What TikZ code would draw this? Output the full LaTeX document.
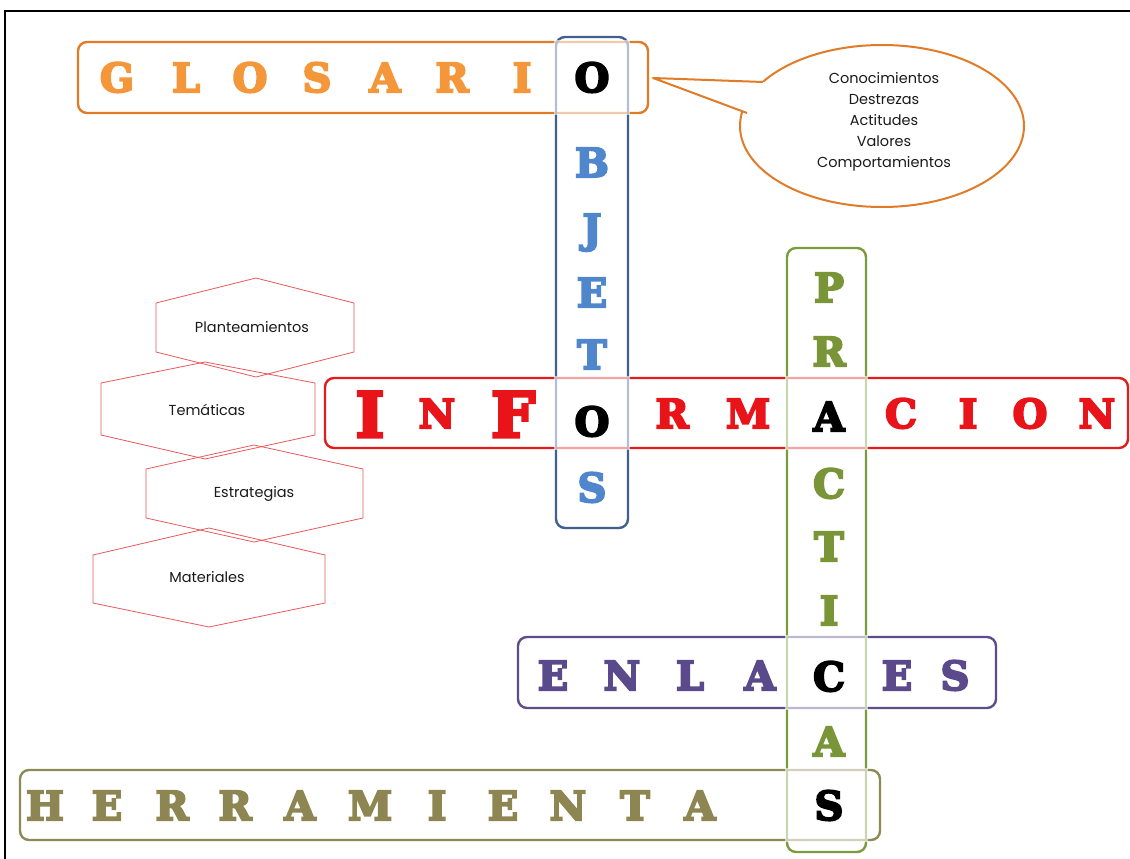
\documentclass[tikz,border=0pt]{standalone}
\usepackage{fontspec}
\usetikzlibrary{shapes.geometric,calc}
\setmainfont{Poppins}
\newfontfamily\bigfont{DejaVu Serif}[UprightFont=* Bold, FakeBold=5]
\definecolor{orB}{HTML}{E07B28}
\definecolor{orL}{HTML}{F4973A}
\definecolor{blB}{HTML}{41618C}
\definecolor{blL}{HTML}{4F86CC}
\definecolor{rdB}{HTML}{E41B1B}
\definecolor{rdL}{HTML}{E8141A}
\definecolor{grB}{HTML}{7C9A3E}
\definecolor{grL}{HTML}{7A9438}
\definecolor{puB}{HTML}{5E4D8A}
\definecolor{puL}{HTML}{5B4A8B}
\definecolor{olB}{HTML}{8C8A55}
\definecolor{olL}{HTML}{8D8652}
\definecolor{hexred}{HTML}{E8585A}
\definecolor{txt}{HTML}{1A1A1A}
\tikzset{
  wordbox/.style={rounded corners=9pt, line width=2.4pt},
  lt/.style={font=\bigfont\fontsize{40}{40}\selectfont, anchor=base, inner sep=0pt},
  biglt/.style={font=\bigfont\fontsize{62}{62}\selectfont, anchor=base, inner sep=0pt},
  hexa/.style={draw=hexred, line width=0.8pt},
  small/.style={font=\fontsize{14.5}{21}\selectfont, text=txt, inner sep=0pt},
  fade/.style={fill=white, fill opacity=0.6, draw=none}
}
\begin{document}
\begin{tikzpicture}[x=1pt,y=-1pt]
\useasboundingbox (0,0) rectangle (1130,859);
% frame: left and top edges
\draw[line width=1.5pt, black] (5,880) -- (5,11) -- (1150,11);

% horizontal boxes
\draw[wordbox, draw=orB] (78,42) rectangle (648,113);
\draw[wordbox, draw=rdB] (325,378) rectangle (1128,448);
\draw[wordbox, draw=puB] (518,637) rectangle (996,708);
\draw[wordbox, draw=olB] (20,770) rectangle (880,840);
% vertical boxes
\draw[wordbox, draw=blB] (556,37) rectangle (628,528);
\draw[wordbox, draw=grB] (787,248) rectangle (866,852);
% faded intersections
\fill[fade] (554,40) rectangle (630,115);
\fill[fade] (554,376) rectangle (630,450);
\fill[fade] (785,376) rectangle (868,450);
\fill[fade] (785,635) rectangle (868,710);
\fill[fade] (785,768) rectangle (868,842);

% speech bubble
\node[draw=orB, line width=2pt, ellipse, minimum width=284pt, minimum height=162pt, inner sep=0pt] (bubble) at (882,126) {};
\coordinate (tip) at (653,78);
\coordinate (b1) at (763,82);
\coordinate (b2) at (747,113);
\fill[white] (b1) -- (tip) -- (b2) -- ($(b2)+(6,0)$) -- ($(b1)+(6,0)$) -- cycle;
\draw[orB, line width=2pt, line join=round] (b1) -- (tip) -- (b2);
\node[small, align=center] (bubtext) at (884,122) {Conocimientos\\Destrezas\\Actitudes\\Valores\\Comportamientos};

% hexagons
\draw[hexa] (256,278) -- (354,303) -- (354,352) -- (256,377) -- (156,352) -- (156,303) -- cycle;
\draw[hexa] (205,362) -- (315,383) -- (315,435) -- (205,459) -- (101,435) -- (101,383) -- cycle;
\draw[hexa] (254,445) -- (363,469) -- (363,518) -- (254,542) -- (146,518) -- (146,469) -- cycle;
\draw[hexa] (209,528) -- (325,555) -- (325,603) -- (209,627) -- (93,603) -- (93,555) -- cycle;
\node[small] (h1) at (252,327) {Planteamientos};
\node[small] (h2) at (207,410) {Temáticas};
\node[small] (h3) at (254,494) {Estrategias};
\node[small] (h4) at (207,577) {Materiales};

% GLOSARIO
\foreach \l/\x [count=\i] in {G/117,L/186,O/250,S/317,A/385,R/452,I/522}
  \node[lt, text=orL] (gl\i) at (\x,92) {\l};
\node[lt, text=black] (cross1) at (592,92) {O};
% OBJETOS
\foreach \l/\y [count=\i] in {B/177,J/243,E/307,T/369,S/502}
  \node[lt, text=blL] (ob\i) at (592,\y) {\l};
\node[lt, text=black] (cross2) at (592,436) {O};
% INFORMACION
\node[biglt, text=rdL] (in1) at (370,437) {I};
\node[lt, text=rdL] (in2) at (437,428) {N};
\node[biglt, text=rdL] (in3) at (513,437) {F};
\foreach \l/\x [count=\i] in {R/672,M/748,C/901,I/968,O/1030,N/1097}
  \node[lt, text=rdL] (inr\i) at (\x,428) {\l};
\node[lt, text=black] (cross3) at (829,431) {A};
% PRACTICAS
\foreach \l/\y [count=\i] in {P/302,R/366,C/498,T/561,I/625,A/756}
  \node[lt, text=grL] (pr\i) at (829,\y) {\l};
\node[lt, text=black] (cross4) at (829,691) {C};
% ENLACES
\foreach \l/\x [count=\i] in {E/553,N/622,L/690,A/760,E/897,S/955}
  \node[lt, text=puL] (en\i) at (\x,690) {\l};
% HERRAMIENTAS
\foreach \l/\x [count=\i] in {H/45,E/107,R/172,R/235,A/300,M/370,I/437,E/503,N/568,T/635,A/700}
  \node[lt, text=olL] (he\i) at (\x,820) {\l};
\node[lt, text=black] (cross5) at (829,820) {S};
\end{tikzpicture}
\end{document}
